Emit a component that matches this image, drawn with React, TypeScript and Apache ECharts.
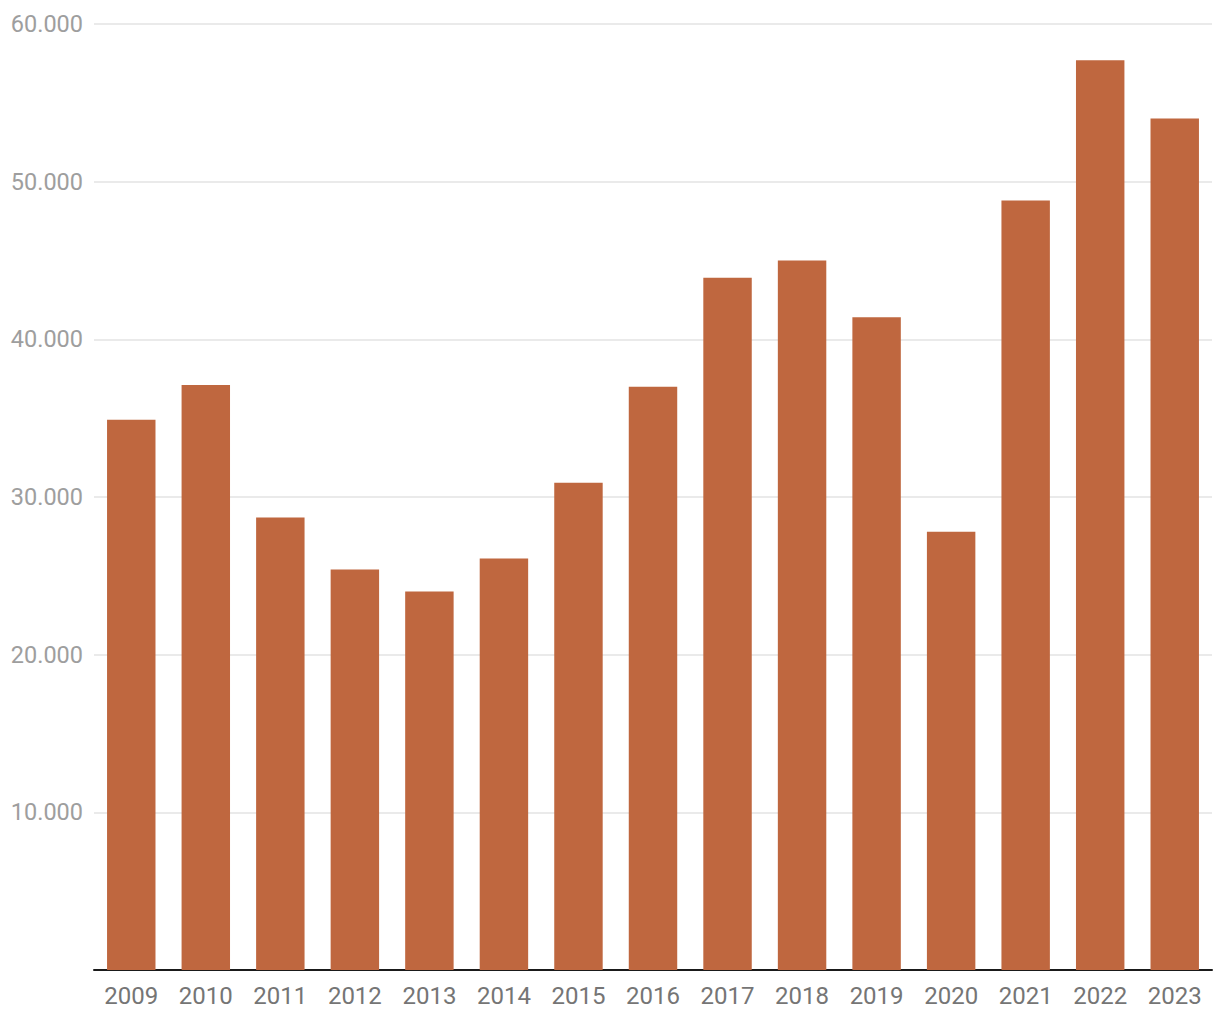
import React, { useEffect, useRef } from "react";
import * as echarts from "echarts";

const years = ["2009", "2010", "2011", "2012", "2013", "2014", "2015", "2016", "2017", "2018", "2019", "2020", "2021", "2022", "2023"];
const values = [34900, 37100, 28700, 25400, 24000, 26100, 30900, 37000, 43900, 45000, 41400, 27800, 48800, 57700, 54000];

const fmt = (v: number) => {
  const s = String(Math.round(v));
  return s.replace(/\B(?=(\d{3})+(?!\d))/g, ".");
};

export default function App() {
  const ref = useRef<HTMLDivElement>(null);
  useEffect(() => {
    document.body.style.margin = "0";
    const chart = echarts.init(ref.current!, null, { renderer: "svg" });
    chart.setOption({
      animation: false,
      grid: { left: 94, right: 8, top: 24, bottom: 50, containLabel: false },
      xAxis: {
        type: "category",
        data: years,
        axisLine: { lineStyle: { color: "#1a1a1a", width: 2 } },
        axisTick: { show: false },
        axisLabel: { color: "#757575", fontSize: 24, fontFamily: "Roboto", margin: 14 },
      },
      yAxis: {
        type: "value",
        min: 0,
        max: 60000,
        interval: 10000,
        axisLine: { show: false },
        axisTick: { show: false },
        splitLine: { lineStyle: { color: "#e3e3e3", width: 1.5 } },
        axisLabel: {
          color: "#9e9e9e",
          fontSize: 23.5,
          fontFamily: "Roboto",
          margin: 11,
          showMinLabel: false,
          formatter: (v: number) => (v === 0 ? "" : fmt(v)),
        },
      },
      series: [
        {
          type: "bar",
          data: values,
          barWidth: "65%",
          itemStyle: { color: "#BF673F" },
        },
      ],
    });
    return () => chart.dispose();
  }, []);
  return <div ref={ref} style={{ width: 1220, height: 1020 }} />;
}
